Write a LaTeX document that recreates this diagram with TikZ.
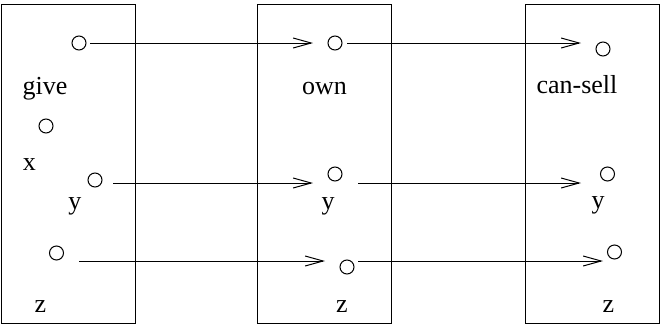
\documentclass[tikz,border=0pt]{standalone}
\usepackage{fontspec}
\setmainfont{Liberation Serif}
\usetikzlibrary{positioning,arrows.meta}
\tikzset {
    frame/.style={
        draw=black,
        line width=0.5pt,
        rectangle, % the three boxes
        minimum width=67pt,
        minimum height=159.5pt,
    },
    dot/.style={
        draw=black,
        line width=0.5pt,
        circle,
        inner sep=0pt,
        minimum size=7pt,
    },
    word/.style={
        inner sep=0pt,
        anchor=base,
        font=\fontsize{13}{15}\selectfont,
    },
    link/.style={
        line width=0.5pt,
        -{Straight Barb[length=9pt,width=5pt]},
    },
}
\begin{document}
\begin{tikzpicture}[x=0.5pt, y=-0.5pt]
\useasboundingbox (0,0) rectangle (660,327);

\node[frame] (giveBox) at (68,163.5) {};
\node[frame] (ownBox) at (324,163.5) {};
\node[frame] (sellBox) at (592,163.5) {};

% give
\node[dot] (give0) at (79,43) {};
\node[word] (giveLabel) at (45,94) {give};
\node[dot] (giveX) at (46,126) {};
\node[word] (xLabel) at (29.5,170) {x};
\node[dot] (giveY) at (95,180) {};
\node[word] (yLabel) at (75,209) {y};
\node[dot] (giveZ) at (56.5,253) {};
\node[word] (zLabel) at (40.5,312) {z};

% own
\node[dot] (own0) at (335,43) {};
\node[word] (ownLabel) at (324.5,94) {own};
\node[dot] (ownY) at (335,174) {};
\node[word] (ownYLabel) at (328,209) {y};
\node[dot] (ownZ) at (347,267) {};
\node[word] (ownZLabel) at (342,312) {z};

% can-sell
\node[dot] (sell0) at (603,49) {};
\node[word] (sellLabel) at (577,93) {can-sell};
\node[dot] (sellY) at (607.5,174) {};
\node[word] (sellYLabel) at (598,208) {y};
\node[dot] (sellZ) at (614.5,252) {};
\node[word] (sellZLabel) at (608.5,312) {z};

% arrow ends
\coordinate (give0Out) at (90,43);
\coordinate (own0In) at (313,43);
\coordinate (own0Out) at (347,43);
\coordinate (sell0In) at (581,43);
\coordinate (giveYOut) at (113,183);
\coordinate (ownYIn) at (313,183);
\coordinate (ownYOut) at (358,183);
\coordinate (sellYIn) at (581,183);
\coordinate (giveZOut) at (79,261);
\coordinate (ownZIn) at (325,261);
\coordinate (ownZOut) at (358,261);
\coordinate (sellZIn) at (603,261);

\draw[link] (give0Out) -- (own0In);
\draw[link] (own0Out) -- (sell0In);
\draw[link] (giveYOut) -- (ownYIn);
\draw[link] (ownYOut) -- (sellYIn);
\draw[link] (giveZOut) -- (ownZIn);
\draw[link] (ownZOut) -- (sellZIn);
\end{tikzpicture}
\end{document}
